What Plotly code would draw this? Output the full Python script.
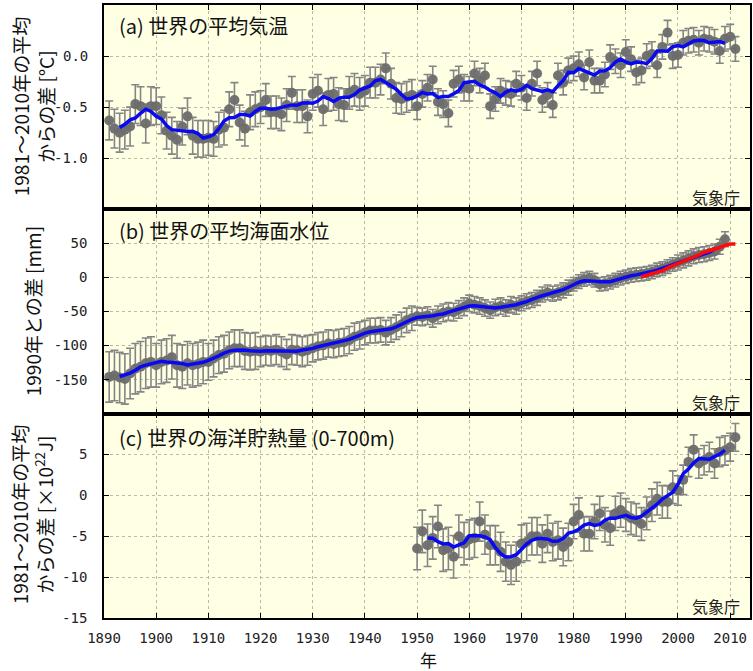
import pandas as pd
import plotly.graph_objects as go
from plotly.subplots import make_subplots

# ---------------- data ----------------
years_a = list(range(1891, 2012))
temp_a = [-0.63, -0.71, -0.75, -0.72, -0.69, -0.47, -0.49, -0.66, -0.49,
          -0.49, -0.58, -0.73, -0.78, -0.82, -0.69, -0.59, -0.78, -0.81, -0.81,
          -0.80, -0.81, -0.72, -0.70, -0.52, -0.43, -0.65, -0.71, -0.55, -0.52,
          -0.50, -0.43, -0.55, -0.55, -0.57, -0.48, -0.36, -0.49, -0.49, -0.59,
          -0.37, -0.34, -0.52, -0.38, -0.37, -0.47, -0.48, -0.36, -0.33, -0.37,
          -0.34, -0.26, -0.26, -0.23, -0.12, -0.27, -0.41, -0.42, -0.40, -0.38,
          -0.49, -0.37, -0.31, -0.23, -0.45, -0.47, -0.56, -0.27, -0.23, -0.31,
          -0.32, -0.17, -0.24, -0.19, -0.49, -0.42, -0.34, -0.36, -0.37, -0.27,
          -0.31, -0.41, -0.27, -0.17, -0.43, -0.38, -0.48, -0.19, -0.26, -0.14,
          -0.12, -0.08, -0.21, -0.06, -0.24, -0.24, -0.18, -0.01, -0.05, -0.09,
          0.04, -0.03, -0.16, -0.14, 0.00, 0.02, -0.09, 0.09, 0.23, 0.00,
          0.01, 0.13, 0.15, 0.16, 0.13, 0.17, 0.16, 0.14, 0.05, 0.17,
          0.19, 0.07]
err_a_decade = {1890: 0.19, 1900: 0.18, 1910: 0.17, 1920: 0.16, 1930: 0.16,
                1940: 0.15, 1950: 0.13, 1960: 0.12, 1970: 0.12, 1980: 0.12,
                1990: 0.12, 2000: 0.12, 2010: 0.12}

years_b = list(range(1891, 2010))
sea_b = [-146, -144, -147, -149, -141, -134, -131, -126, -124,
         -129, -124, -122, -117, -129, -131, -126, -129, -127, -124,
         -124, -119, -114, -112, -107, -104, -104, -108, -109, -108,
         -109, -107, -108, -106, -109, -113, -106, -107, -109, -107,
         -104, -101, -100, -97, -98, -96, -95, -92, -87, -85,
         -81, -78, -78, -77, -81, -77, -73, -69, -63, -60,
         -57, -58, -56, -60, -55, -52, -50, -51, -47, -43,
         -38, -40, -42, -45, -48, -44, -42, -45, -40, -42,
         -38, -35, -33, -30, -25, -22, -24, -22, -19, -15,
         -10, -6, -3, -1, -4, -10, -9, -7, -4, -1,
         1, 3, 4, 5, 6, 8, 11, 13, 16, 19,
         22, 25, 28, 31, 33, 34, 36, 38, 45, 56]
err_b_decade = {1890: 37, 1900: 32, 1910: 27, 1920: 22, 1930: 20, 1940: 18,
                1950: 13, 1960: 12, 1970: 11, 1980: 10, 1990: 10, 2000: 11}
years_sat = list(range(1993, 2012))
sea_sat = [1, 3, 5, 7, 10, 14, 17, 20, 23, 27, 30, 33, 37, 39, 41, 44, 47, 49, 49]

years_c = list(range(1950, 2012))
ohc_c = [-6.5, -4.4, -6.1, -5.2, -3.8, -6.7, -6.5, -7.5, -5.0, -5.9,
         -5.4, -5.2, -3.2, -4.8, -6.1, -6.1, -6.9, -8.1, -8.5, -8.1,
         -5.9, -5.7, -5.0, -5.0, -5.9, -4.7, -5.7, -5.5, -6.3, -5.7,
         -3.2, -2.4, -4.7, -4.7, -3.2, -2.2, -3.6, -4.0, -2.2, -1.8,
         -2.4, -2.8, -3.0, -3.5, -2.2, -1.2, -0.4, -0.8, -0.8, 1.0,
         0.6, 1.9, 4.1, 5.6, 3.9, 4.3, 4.7, 3.9, 5.3, 5.5,
         5.9, 7.1]
err_c_decade = {1950: 2.6, 1960: 2.4, 1970: 2.3, 1980: 2.1, 1990: 2.0,
                2000: 1.8, 2010: 1.7}

x_ticks = [1890, 1900, 1910, 1920, 1930, 1940, 1950, 1960, 1970, 1980, 1990, 2000, 2010]
ticks_a = [-1.0, -0.5, 0.0]
labels_a = ["-1.0", "-0.5", "0.0"]
ticks_b = [-150, -100, -50, 0, 50]
labels_b = ["-150", "-100", "-50", "0", "50"]
ticks_c = [-15, -10, -5, 0, 5]
labels_c = ["-15", "-10", "-5", "0", "5"]

# ---------------- figure ----------------
W, H = 753, 671
ML, MR, MT, MB = 104, 1, 5, 53
PW, PH = W - ML - MR, H - MT - MB

def px(x):
    return (x - ML) / PW

def py(y):
    return 1 - (y - MT) / PH

def errs(years, table):
    return [table[(y // 10) * 10] for y in years]

def run5(values):
    # 5-year centred running mean of the plotted annual values (as in the original)
    return pd.Series(values).rolling(5, center=True).mean().tolist()

GRAY = "#6b6b6b"
ERRC = "#858585"
BLUE = "#0a0af0"
RED = "#ff0a0a"

fig = make_subplots(rows=3, cols=1, shared_xaxes=True, vertical_spacing=0)

panels = [
    (1, years_a, temp_a, err_a_decade),
    (2, years_b, sea_b, err_b_decade),
    (3, years_c, ohc_c, err_c_decade),
]
for row, yrs, vals, etab in panels:
    fig.add_trace(go.Scatter(
        x=yrs, y=vals, mode="markers",
        marker=dict(color=GRAY, size=10, opacity=0.95),
        error_y=dict(type="data", array=errs(yrs, etab), color=ERRC,
                     thickness=1.6, width=4),
        showlegend=False, hoverinfo="skip"), row=row, col=1)
    fig.add_trace(go.Scatter(
        x=yrs, y=run5(vals), mode="lines",
        line=dict(color=BLUE, width=3.5),
        showlegend=False, hoverinfo="skip"), row=row, col=1)
    if row == 2:
        fig.add_trace(go.Scatter(
            x=years_sat, y=sea_sat, mode="lines",
            line=dict(color=RED, width=3.5),
            showlegend=False, hoverinfo="skip"), row=2, col=1)

CJK = "Noto Sans CJK JP"
tickfont = dict(family="DejaVu Sans Mono", size=14, color="#222222")
titlefont = dict(family=CJK, size=19, color="#111111")
common_axis = dict(showline=True, linecolor="black", linewidth=1.6, mirror="ticks",
                   ticks="inside", ticklen=5, tickwidth=1.2, tickcolor="black",
                   showgrid=True, gridcolor="#b9b9a6", griddash="dot", gridwidth=1,
                   zeroline=False, tickfont=tickfont)

for r in (1, 2, 3):
    fig.update_xaxes(range=[1890, 2013.8], tickvals=x_ticks, row=r, col=1,
                     ticklabelstandoff=6, **common_axis)
# panel (a): tick positions from the axis, labels placed at the same data values
fig.update_yaxes(range=[-1.5, 0.5], tickvals=ticks_a, showticklabels=False, row=1, col=1,
                 **common_axis)
fig.update_yaxes(range=[-200, 100], tickvals=ticks_b, ticktext=labels_b, row=2, col=1,
                 ticklabelstandoff=12, **common_axis)
fig.update_yaxes(range=[-15, 10], tickvals=ticks_c, ticktext=labels_c, row=3, col=1,
                 ticklabelstandoff=12, **common_axis)

ann = []
for v, lab in zip(ticks_a, labels_a):
    ann.append(dict(text=lab, x=px(90), y=v, xref="paper", yref="y",
                    xanchor="right", yanchor="middle", showarrow=False,
                    font=tickfont))
# panel labels
for text, y in [("(a) 世界の平均気温", 25), ("(b) 世界の平均海面水位", 230),
                ("(c) 世界の海洋貯熱量 (0-700m)", 437)]:
    ann.append(dict(text=text, x=px(117), y=py(y), xref="paper", yref="paper",
                    xanchor="left", yanchor="middle", showarrow=False,
                    font=dict(family=CJK, size=20, color="#111111")))
# credit
for y in (197, 402, 606):
    ann.append(dict(text="気象庁", x=px(744), y=py(y), xref="paper", yref="paper",
                    xanchor="right", yanchor="middle", showarrow=False,
                    font=dict(family=CJK, size=16, color="#222222")))
# y-axis titles
ann.append(dict(text="1981～2010年の平均<br>からの差 [°C]", x=px(33), y=py(107),
                xref="paper", yref="paper", textangle=-90, showarrow=False,
                xanchor="center", yanchor="middle", font=titlefont))
ann.append(dict(text="1990年との差 [mm]", x=px(33), y=py(311),
                xref="paper", yref="paper", textangle=-90, showarrow=False,
                xanchor="center", yanchor="middle", font=titlefont))
ann.append(dict(text="1981～2010年の平均<br>からの差 [×10<sup>22</sup>J]", x=px(32), y=py(515),
                xref="paper", yref="paper", textangle=-90, showarrow=False,
                xanchor="center", yanchor="middle", font=titlefont))
# x-axis title
ann.append(dict(text="年", x=px(430), y=py(659), xref="paper", yref="paper",
                showarrow=False, xanchor="center", yanchor="middle",
                font=dict(family=CJK, size=17, color="#111111")))

fig.update_layout(
    width=W, height=H,
    margin=dict(l=ML, r=MR, t=MT, b=MB, pad=0),
    plot_bgcolor="#ffffe3", paper_bgcolor="white",
    annotations=ann, showlegend=False,
)

fig.write_html("out.html",
               config={"displayModeBar": False},
               post_script="document.body.style.margin='0';"
                           "document.body.style.overflow='hidden';")
